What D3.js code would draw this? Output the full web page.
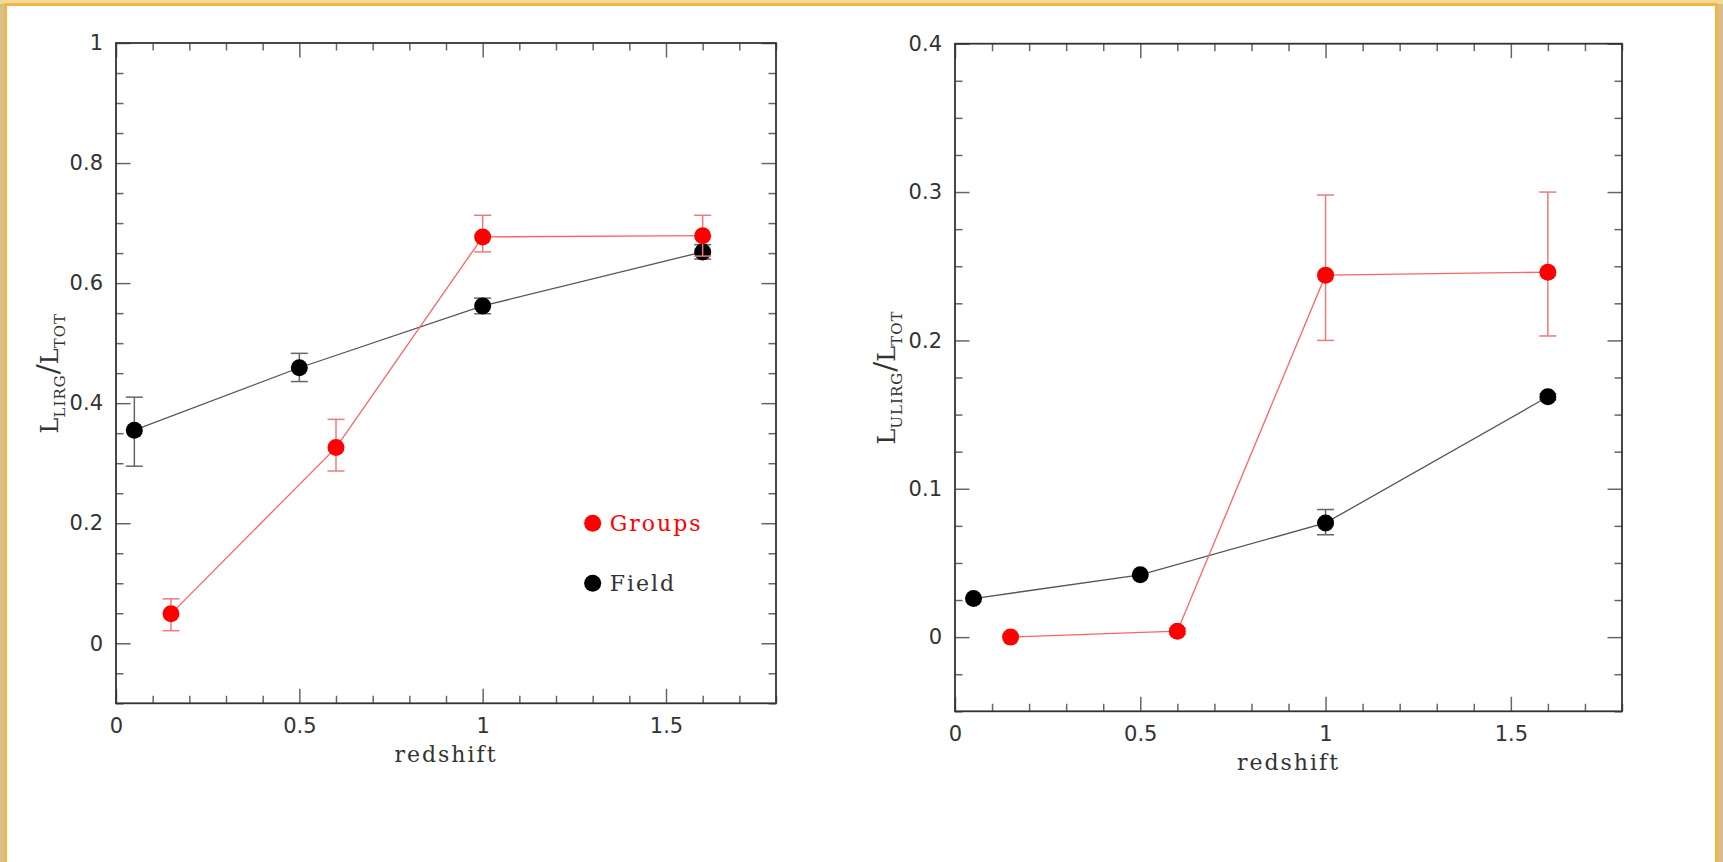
<!DOCTYPE html>
<html>
<head>
<meta charset="utf-8">
<script src="https://cdnjs.cloudflare.com/ajax/libs/d3/7.8.5/d3.min.js"></script>
<style>
  html, body { margin: 0; padding: 0; background: #d6bf8b; overflow: hidden; }
  svg { display: block; }
</style>
</head>
<body>
<svg id="chart" width="1723" height="862"></svg>
<script>
// redshift bins
const zField = [0.05, 0.5, 1.0, 1.6];
const zGroups = [0.15, 0.6, 1.0, 1.6];

// L_LIRG / L_TOT  (left panel)
const lirgField   = [0.355, 0.459, 0.562, 0.652];
const lirgFieldLo = [0.295, 0.436, 0.549, 0.640];
const lirgFieldHi = [0.410, 0.483, 0.575, 0.664];
const lirgGroups   = [0.049, 0.326, 0.677, 0.679];
const lirgGroupsLo = [0.021, 0.287, 0.652, 0.645];
const lirgGroupsHi = [0.074, 0.373, 0.713, 0.713];

// L_ULIRG / L_TOT  (right panel)
const ulirgField   = [0.026, 0.042, 0.077, 0.162];
const ulirgFieldLo = [0.026, 0.042, 0.069, 0.160];
const ulirgFieldHi = [0.026, 0.042, 0.086, 0.164];
const ulirgGroups   = [0.000, 0.004, 0.244, 0.246];
const ulirgGroupsLo = [0.000, 0.002, 0.200, 0.203];
const ulirgGroupsHi = [0.000, 0.006, 0.298, 0.300];

// ticks
const xTicks = [0, 0.5, 1, 1.5];
const xTickLabels = ["0", "0.5", "1", "1.5"];
const lirgTicks = [0, 0.2, 0.4, 0.6, 0.8, 1];
const lirgTickLabels = ["0", "0.2", "0.4", "0.6", "0.8", "1"];
const ulirgTicks = [0, 0.1, 0.2, 0.3, 0.4];
const ulirgTickLabels = ["0", "0.1", "0.2", "0.3", "0.4"];

// legend
const legendNames = ["Groups", "Field"];
const legendX = 1.3;
const legendY = [0.2, 0.1];

const RED = "#ff0000";
const svg = d3.select("#chart");

// golden picture frame
svg.append("rect").attr("x", 0).attr("y", 0).attr("width", 1723).attr("height", 862).attr("fill", "#d6bf8b");
svg.append("rect").attr("x", 0).attr("y", 0).attr("width", 1723).attr("height", 4).attr("fill", "#f1d996");
svg.append("rect").attr("x", 4).attr("y", 3).attr("width", 1714).attr("height", 870).attr("fill", "#f5b545");
svg.append("rect").attr("x", 7).attr("y", 6).attr("width", 1708).attr("height", 870).attr("fill", "#ffffff");

function drawPanel(o) {
  const g = svg.append("g");
  const x = d3.scaleLinear().domain([0, 1.8]).range([o.left, o.right]);
  const y = d3.scaleLinear().domain(o.yDomain).range([o.bottom, o.top]);

  const xMinor = d3.range(0, 1.81, 0.1).filter(v => Math.abs(v * 2 - Math.round(v * 2)) > 1e-6);
  const yMinor = d3.range(o.yDomain[0], o.yDomain[1] + 1e-6, o.yMinorStep)
    .filter(v => !o.yTicks.some(t => Math.abs(t - v) < 1e-6));

  const styleAxis = (sel) => {
    sel.select(".domain").remove();
    sel.selectAll(".tick line").attr("stroke", "#666").attr("stroke-width", 1.5);
    sel.selectAll(".tick text")
      .attr("font-family", "'DejaVu Sans', sans-serif")
      .attr("font-size", 21)
      .attr("fill", "#333");
  };

  // major ticks with labels
  g.append("g").attr("transform", `translate(0,${o.bottom})`)
    .call(d3.axisBottom(x).tickValues(xTicks).tickFormat((d, i) => xTickLabels[i]).tickSize(-14.5).tickPadding(15))
    .call(styleAxis);
  g.append("g").attr("transform", `translate(${o.left},0)`)
    .call(d3.axisLeft(y).tickValues(o.yTicks).tickFormat((d, i) => o.yTickLabels[i]).tickSize(-14.5).tickPadding(13))
    .call(styleAxis);
  g.append("g").attr("transform", `translate(0,${o.top})`)
    .call(d3.axisTop(x).tickValues(xTicks).tickFormat("").tickSize(-14.5))
    .call(styleAxis);
  g.append("g").attr("transform", `translate(${o.right},0)`)
    .call(d3.axisRight(y).tickValues(o.yTicks).tickFormat("").tickSize(-14.5))
    .call(styleAxis);

  // minor ticks
  g.append("g").attr("transform", `translate(0,${o.bottom})`)
    .call(d3.axisBottom(x).tickValues(xMinor).tickFormat("").tickSize(-7.5)).call(styleAxis);
  g.append("g").attr("transform", `translate(0,${o.top})`)
    .call(d3.axisTop(x).tickValues(xMinor).tickFormat("").tickSize(-7.5)).call(styleAxis);
  g.append("g").attr("transform", `translate(${o.left},0)`)
    .call(d3.axisLeft(y).tickValues(yMinor).tickFormat("").tickSize(-7.5)).call(styleAxis);
  g.append("g").attr("transform", `translate(${o.right},0)`)
    .call(d3.axisRight(y).tickValues(yMinor).tickFormat("").tickSize(-7.5)).call(styleAxis);

  // frame
  g.append("rect")
    .attr("x", o.left).attr("y", o.top)
    .attr("width", o.right - o.left).attr("height", o.bottom - o.top)
    .attr("fill", "none").attr("stroke", "#333").attr("stroke-width", 1.8);

  // x label
  g.append("text")
    .attr("x", (o.left + o.right) / 2).attr("y", o.bottom + 59)
    .attr("text-anchor", "middle")
    .attr("font-family", "'DejaVu Serif', serif").attr("font-size", 22)
    .attr("letter-spacing", 2).attr("fill", "#333")
    .text("redshift");

  // y label  L_sub / L_TOT
  const yl = g.append("text")
    .attr("transform", `translate(${o.labelX},${(o.top + o.bottom) / 2}) rotate(-90)`)
    .attr("text-anchor", "middle")
    .attr("font-family", "'DejaVu Serif', serif").attr("fill", "#333");
  yl.append("tspan").attr("font-size", 24).text("L");
  yl.append("tspan").attr("font-size", 15).attr("dy", 7).attr("letter-spacing", 1).text(o.sub);
  yl.append("tspan").attr("font-size", 30).attr("dy", -7).attr("font-weight", 200).text("/");
  yl.append("tspan").attr("font-size", 24).text("L");
  yl.append("tspan").attr("font-size", 15).attr("dy", 7).attr("letter-spacing", 1).text("TOT");

  const line = d3.line().x(d => x(d[0])).y(d => y(d[1]));

  o.series.forEach(s => {
    const pts = s.z.map((z, i) => [z, s.v[i]]);
    g.append("path").datum(pts)
      .attr("d", line).attr("fill", "none")
      .attr("stroke", s.line).attr("stroke-width", 1.3);

    // error bars
    const eb = g.append("g").attr("stroke", s.err).attr("stroke-width", 1.5);
    s.z.forEach((z, i) => {
      if (s.hi[i] - s.lo[i] < 1e-6) return;
      eb.append("line").attr("x1", x(z)).attr("x2", x(z)).attr("y1", y(s.lo[i])).attr("y2", y(s.hi[i]));
      eb.append("line").attr("x1", x(z) - 8.5).attr("x2", x(z) + 8.5).attr("y1", y(s.lo[i])).attr("y2", y(s.lo[i]));
      eb.append("line").attr("x1", x(z) - 8.5).attr("x2", x(z) + 8.5).attr("y1", y(s.hi[i])).attr("y2", y(s.hi[i]));
    });

    g.append("g").selectAll("circle").data(pts).join("circle")
      .attr("cx", d => x(d[0])).attr("cy", d => y(d[1]))
      .attr("r", 8.5).attr("fill", s.color);
  });

  if (o.legend) {
    const cols = [RED, "#000"];
    legendNames.forEach((name, i) => {
      g.append("circle").attr("cx", x(legendX)).attr("cy", y(legendY[i]))
        .attr("r", 8.5).attr("fill", cols[i]);
      g.append("text")
        .attr("x", x(legendX) + 17).attr("y", y(legendY[i]) + 8)
        .attr("font-family", "'DejaVu Serif', serif").attr("font-size", 22)
        .attr("letter-spacing", 2)
        .attr("fill", i === 0 ? RED : "#333")
        .text(name);
    });
  }
}

drawPanel({
  left: 116, right: 776, top: 43, bottom: 703.3,
  yDomain: [-0.1, 1], yTicks: lirgTicks, yTickLabels: lirgTickLabels, yMinorStep: 0.05,
  labelX: 58, sub: "LIRG", legend: true,
  series: [
    { z: zField, v: lirgField, lo: lirgFieldLo, hi: lirgFieldHi, color: "#000", line: "#555", err: "#666" },
    { z: zGroups, v: lirgGroups, lo: lirgGroupsLo, hi: lirgGroupsHi, color: RED, line: "#ff6464", err: "#f07a7a" }
  ]
});

drawPanel({
  left: 955, right: 1622, top: 43.7, bottom: 711.3,
  yDomain: [-0.05, 0.4], yTicks: ulirgTicks, yTickLabels: ulirgTickLabels, yMinorStep: 0.025,
  labelX: 895, sub: "ULIRG", legend: false,
  series: [
    { z: zField, v: ulirgField, lo: ulirgFieldLo, hi: ulirgFieldHi, color: "#000", line: "#555", err: "#666" },
    { z: zGroups, v: ulirgGroups, lo: ulirgGroupsLo, hi: ulirgGroupsHi, color: RED, line: "#ff6464", err: "#f07a7a" }
  ]
});
</script>
</body>
</html>
